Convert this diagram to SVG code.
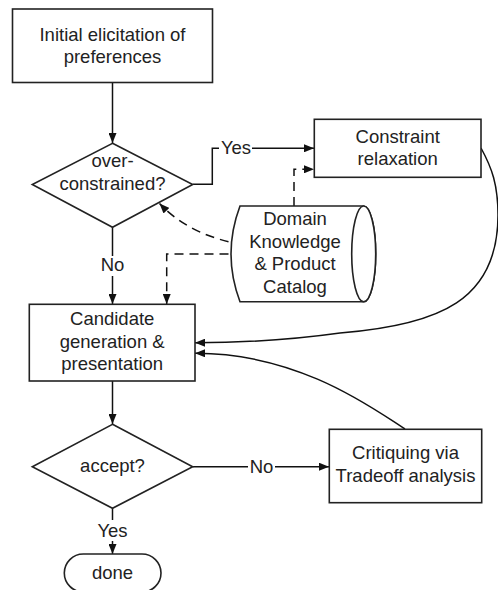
<svg xmlns="http://www.w3.org/2000/svg" width="498" height="590" viewBox="0 0 498 590">
<defs>
<marker id="arr" viewBox="0 0 10 8" refX="10" refY="4" markerWidth="10" markerHeight="8" markerUnits="userSpaceOnUse" orient="auto">
<path d="M0,0 L10,4 L0,8 Z" fill="#111"/>
</marker>
</defs>
<style>
.shape{fill:#fff;stroke:#222;stroke-width:1.6}
.t{font-family:"Liberation Sans",Arial,sans-serif;font-size:18.5px;fill:#222;text-anchor:middle}
.c{fill:none;stroke:#111;stroke-width:1.5}
.d{fill:none;stroke:#111;stroke-width:1.5;stroke-dasharray:9,6}
</style>
<rect width="498" height="590" fill="#fff"/>
<g id="connectors">
<path class="c" d="M112.5,82.5 V143" marker-end="url(#arr)"/>
<path class="c" d="M192.7,184.3 H212.3 V148.3 H219"/>
<path class="c" d="M252,148.3 H314" marker-end="url(#arr)"/>
<path class="d" d="M294,206 V169.3 H314" marker-end="url(#arr)"/>
<path class="d" d="M228.5,241.7 C205,236 180,225 159.5,203.5" marker-end="url(#arr)"/>
<path class="d" d="M228.5,254 H166.7 V304" marker-end="url(#arr)"/>
<path class="c" d="M112.5,227.3 V256"/>
<path class="c" d="M112.5,276 V304" marker-end="url(#arr)"/>
<path class="c" d="M481,148 C492,168 498,185 498,215 C498,300 440,325 340,333 C290,340 240,342.7 195,342.7" marker-end="url(#arr)"/>
<path class="c" d="M405,429 C375,410 300,353 195,353.3" marker-end="url(#arr)"/>
<path class="c" d="M112.5,381 V424" marker-end="url(#arr)"/>
<path class="c" d="M192.7,466.7 H248"/>
<path class="c" d="M275,466.7 H329" marker-end="url(#arr)"/>
<path class="c" d="M112.5,508.3 V520"/>
<path class="c" d="M112.5,541 V554" marker-end="url(#arr)"/>
<text class="t" x="236" y="154">Yes</text>
<text class="t" x="112.5" y="271">No</text>
<text class="t" x="261.5" y="472.5">No</text>
<text class="t" x="112.5" y="537">Yes</text>
</g>
<g id="initial">
<rect class="shape" x="12.5" y="9" width="200" height="73.5"/>
<text class="t" x="112.5" y="40.7">Initial elicitation of</text>
<text class="t" x="112.5" y="63.3">preferences</text>
</g>
<g id="overconstrained">
<path class="shape" d="M112.5,143.3 L192.7,184.5 L112.5,227.3 L32.3,184.5 Z"/>
<text class="t" x="112.5" y="166.7">over-</text>
<text class="t" x="112.5" y="190">constrained?</text>
</g>
<g id="relaxation">
<rect class="shape" x="314.3" y="119.3" width="166.7" height="58"/>
<text class="t" x="397.7" y="142.5">Constraint</text>
<text class="t" x="397.7" y="165">relaxation</text>
</g>
<g id="domain">
<path class="shape" d="M240,206 H363.7 A12,47.8 0 0 1 363.7,301.7 H240 Q222,254 240,206 Z"/>
<ellipse class="shape" cx="363.7" cy="253.85" rx="12" ry="47.85"/>
<text class="t" x="295" y="225">Domain</text>
<text class="t" x="295" y="247.7">Knowledge</text>
<text class="t" x="295" y="270.3">&amp; Product</text>
<text class="t" x="295" y="293">Catalog</text>
</g>
<g id="candidate">
<rect class="shape" x="29.3" y="304.3" width="165.7" height="76.7"/>
<text class="t" x="112.2" y="325">Candidate</text>
<text class="t" x="112.2" y="347.7">generation &amp;</text>
<text class="t" x="112.2" y="370.3">presentation</text>
</g>
<g id="accept">
<path class="shape" d="M112.5,424.3 L192.7,466.7 L112.5,508.3 L32.3,466.7 Z"/>
<text class="t" x="112.5" y="472">accept?</text>
</g>
<g id="critiquing">
<rect class="shape" x="329.3" y="429.3" width="152.4" height="73.4"/>
<text class="t" x="405.5" y="459">Critiquing via</text>
<text class="t" x="405.5" y="481.7">Tradeoff analysis</text>
</g>
<g id="done">
<rect class="shape" x="64.3" y="554" width="96.7" height="38" rx="19" ry="19"/>
<text class="t" x="112.5" y="579">done</text>
</g>
</svg>
